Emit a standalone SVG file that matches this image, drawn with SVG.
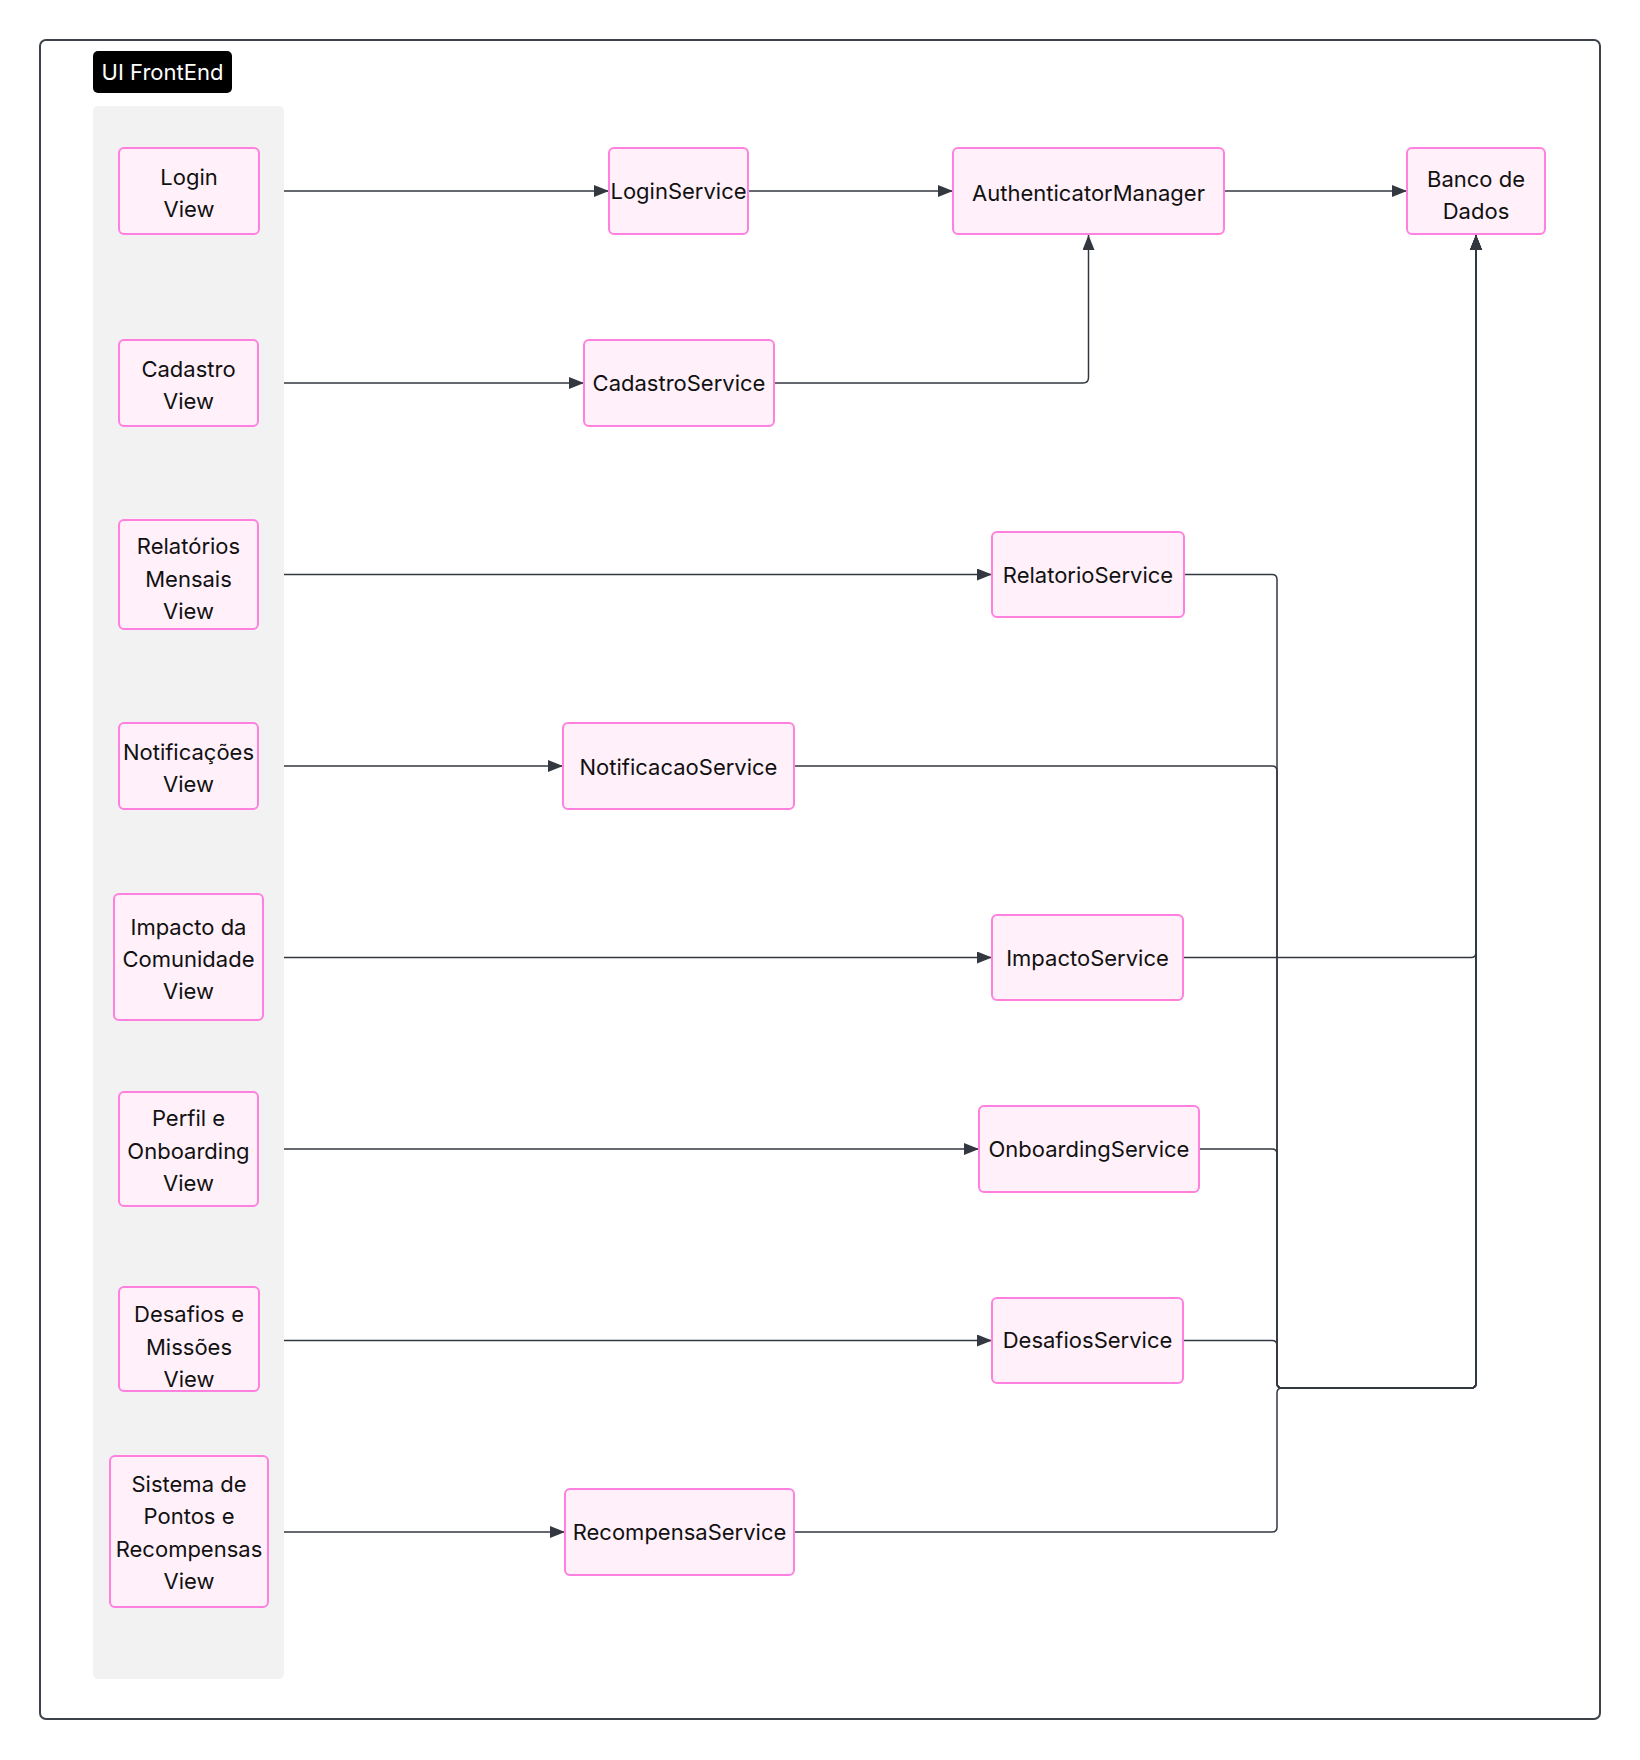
<svg xmlns="http://www.w3.org/2000/svg" width="1640" height="1760" viewBox="0 0 1640 1760">
<defs>
<marker id="arr" markerUnits="userSpaceOnUse" markerWidth="15" markerHeight="12" refX="15" refY="6" orient="auto">
<path d="M0,0 L15,6 L0,12 z" fill="#333840"/>
</marker>
<style>
.node rect{fill:#fff0fa;stroke:#ff80df;stroke-width:2}
.node text{font-family:Inter,"Noto Sans",sans-serif;font-size:22px;fill:#111;text-anchor:middle}
.edge{fill:none;stroke:#333840;stroke-width:1.5}
</style>
</defs>
<rect x="0" y="0" width="1640" height="1760" fill="#fff"/>
<rect x="40" y="40" width="1560" height="1679" rx="6" fill="#fff" stroke="#3d424a" stroke-width="2"/>
<g id="ui-frontend-label">
<rect x="93" y="51" width="139" height="42" rx="5" fill="#000"/>
<text x="162.5" y="80" font-family="Inter,'Noto Sans',sans-serif" font-size="22" fill="#fff" text-anchor="middle">UI FrontEnd</text>
</g>
<rect id="ui-frontend" x="93" y="106" width="191" height="1573" rx="5" fill="#f2f2f2"/>

<g id="connectors">
<path class="edge" d="M284,191 H609" marker-end="url(#arr)"/>
<path class="edge" d="M748,191 H953" marker-end="url(#arr)"/>
<path class="edge" d="M1224,191 H1407" marker-end="url(#arr)"/>
<path class="edge" d="M284,383 H584" marker-end="url(#arr)"/>
<path class="edge" d="M774,383 H1083 Q1088.5,383 1088.5,377.5 V235" marker-end="url(#arr)"/>
<path class="edge" d="M284,574.5 H992" marker-end="url(#arr)"/>
<path class="edge" d="M284,766 H563" marker-end="url(#arr)"/>
<path class="edge" d="M284,957.5 H992" marker-end="url(#arr)"/>
<path class="edge" d="M284,1149 H979" marker-end="url(#arr)"/>
<path class="edge" d="M284,1340.5 H992" marker-end="url(#arr)"/>
<path class="edge" d="M284,1532 H565" marker-end="url(#arr)"/>
<path class="edge" d="M1184,574.5 H1272 Q1277,574.5 1277,579.5 V1383 Q1277,1388 1282,1388 H1471 Q1476,1388 1476,1383 V235" marker-end="url(#arr)"/>
<path class="edge" d="M794,766 H1272 Q1277,766 1277,771 V1383 Q1277,1388 1282,1388 H1471 Q1476,1388 1476,1383 V235" marker-end="url(#arr)"/>
<path class="edge" d="M1183,957.5 H1471 Q1476,957.5 1476,952.5 V235" marker-end="url(#arr)"/>
<path class="edge" d="M1199,1149 H1272 Q1277,1149 1277,1154 V1383 Q1277,1388 1282,1388 H1471 Q1476,1388 1476,1383 V235" marker-end="url(#arr)"/>
<path class="edge" d="M1183,1340.5 H1272 Q1277,1340.5 1277,1345.5 V1383 Q1277,1388 1282,1388 H1471 Q1476,1388 1476,1383 V235" marker-end="url(#arr)"/>
<path class="edge" d="M794,1532 H1272 Q1277,1532 1277,1527 V1393 Q1277,1388 1282,1388 H1471 Q1476,1388 1476,1383 V235" marker-end="url(#arr)"/>
</g>

<g id="login-view" class="node"><rect x="119" y="148" width="140" height="86" rx="5"/><text x="189" y="185">Login</text><text x="189" y="217">View</text></g>
<g id="cadastro-view" class="node"><rect x="119" y="340" width="139" height="86" rx="5"/><text x="188.5" y="377">Cadastro</text><text x="188.5" y="409">View</text></g>
<g id="relatorios-view" class="node"><rect x="119" y="520" width="139" height="109" rx="5"/><text x="188.5" y="554">Relatórios</text><text x="188.5" y="587">Mensais</text><text x="188.5" y="619">View</text></g>
<g id="notificacoes-view" class="node"><rect x="119" y="723" width="139" height="86" rx="5"/><text x="188.5" y="760">Notificações</text><text x="188.5" y="792">View</text></g>
<g id="impacto-view" class="node"><rect x="114" y="894" width="149" height="126" rx="5"/><text x="188.5" y="935">Impacto da</text><text x="188.5" y="967">Comunidade</text><text x="188.5" y="999">View</text></g>
<g id="perfil-view" class="node"><rect x="119" y="1092" width="139" height="114" rx="5"/><text x="188.5" y="1126">Perfil e</text><text x="188.5" y="1159">Onboarding</text><text x="188.5" y="1191">View</text></g>
<g id="desafios-view" class="node"><rect x="119" y="1287" width="140" height="104" rx="5"/><text x="189" y="1322">Desafios e</text><text x="189" y="1355">Missões</text><text x="189" y="1387">View</text></g>
<g id="sistema-view" class="node"><rect x="110" y="1456" width="158" height="151" rx="5"/><text x="189" y="1492">Sistema de</text><text x="189" y="1524">Pontos e</text><text x="189" y="1557">Recompensas</text><text x="189" y="1589">View</text></g>

<g id="login-service" class="node"><rect x="609" y="148" width="139" height="86" rx="5"/><text x="678.5" y="199">LoginService</text></g>
<g id="authenticator-manager" class="node"><rect x="953" y="148" width="271" height="86" rx="5"/><text x="1088.5" y="201">AuthenticatorManager</text></g>
<g id="banco-de-dados" class="node"><rect x="1407" y="148" width="138" height="86" rx="5"/><text x="1476" y="187">Banco de</text><text x="1476" y="219">Dados</text></g>
<g id="cadastro-service" class="node"><rect x="584" y="340" width="190" height="86" rx="5"/><text x="679" y="391">CadastroService</text></g>
<g id="relatorio-service" class="node"><rect x="992" y="532" width="192" height="85" rx="5"/><text x="1088" y="583">RelatorioService</text></g>
<g id="notificacao-service" class="node"><rect x="563" y="723" width="231" height="86" rx="5"/><text x="678.5" y="775">NotificacaoService</text></g>
<g id="impacto-service" class="node"><rect x="992" y="915" width="191" height="85" rx="5"/><text x="1087.5" y="966">ImpactoService</text></g>
<g id="onboarding-service" class="node"><rect x="979" y="1106" width="220" height="86" rx="5"/><text x="1089" y="1157">OnboardingService</text></g>
<g id="desafios-service" class="node"><rect x="992" y="1298" width="191" height="85" rx="5"/><text x="1087.5" y="1348">DesafiosService</text></g>
<g id="recompensa-service" class="node"><rect x="565" y="1489" width="229" height="86" rx="5"/><text x="679.5" y="1540">RecompensaService</text></g>
</svg>
